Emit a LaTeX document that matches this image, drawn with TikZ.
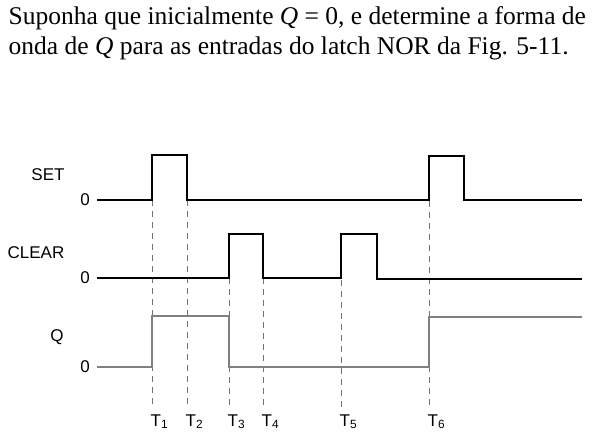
\documentclass[tikz,border=0pt]{standalone}
\usepackage{fontspec}
\setmainfont{Liberation Serif}
\newfontfamily\labelfont{Liberation Sans}
\usetikzlibrary{positioning}

\tikzset{
  wave/.style={line width=1.6pt, black},
  qwave/.style={line width=1.6pt, black!50},
  guide/.style={black!55, dash pattern=on 6pt off 5pt, line width=0.7pt},
  lbl/.style={font=\labelfont\fontsize{17}{19}\selectfont, inner sep=0pt},
  titulo/.style={font=\fontsize{25.5}{30}\selectfont, inner sep=0pt, anchor=base west},
}

\begin{document}
\begin{tikzpicture}[x=1pt,y=-1pt]
        \useasboundingbox (0,0) rectangle (604,446);
        % enunciado
        \node[titulo] (linha1) at (8.5,25) {Suponha que inicialmente {\itshape Q} = 0, e determine a forma de};
        \node[titulo] (linha2) at (8.5,55) {onda de {\itshape Q} para as entradas do latch NOR da Fig. 5-11.};

        % linhas tracejadas T1..T6
        \foreach \x/\ytop/\n in {152/200/1, 187/200/2, 229/278/3, 263/278/4, 341/280/5, 429/201/6}{
          \draw[guide] (\x,\ytop) -- (\x,408);
          \node[lbl, anchor=base west] (t\n) at (\x-1.5,426) {T\textsubscript{\n}};
        }

        % SET
        \node[lbl] (set) at (48,175) {SET};
        \node[lbl] (zset) at (85,200) {0};
        \draw[wave] (97,200) -- (152,200) -- (152,155) -- (187,155) -- (187,200) -- (429,200) -- (429,156) -- (464,156) -- (464,200) -- (582,200);

        % CLEAR
        \node[lbl] (clear) at (36,253) {CLEAR};
        \node[lbl] (zclear) at (85,278) {0};
        \draw[wave] (97,278) -- (229,278) -- (229,234) -- (263,234) -- (263,278) -- (341,278) -- (341,234) -- (377,234) -- (377,279) -- (582,279);

        % Q
        \node[lbl] (q) at (57,337) {Q};
        \node[lbl] (zq) at (85,367) {0};
        \draw[qwave] (97,367) -- (152,367) -- (152,316) -- (229,316) -- (229,367) -- (429,367) -- (429,317) -- (582,317);
\end{tikzpicture}
\end{document}
